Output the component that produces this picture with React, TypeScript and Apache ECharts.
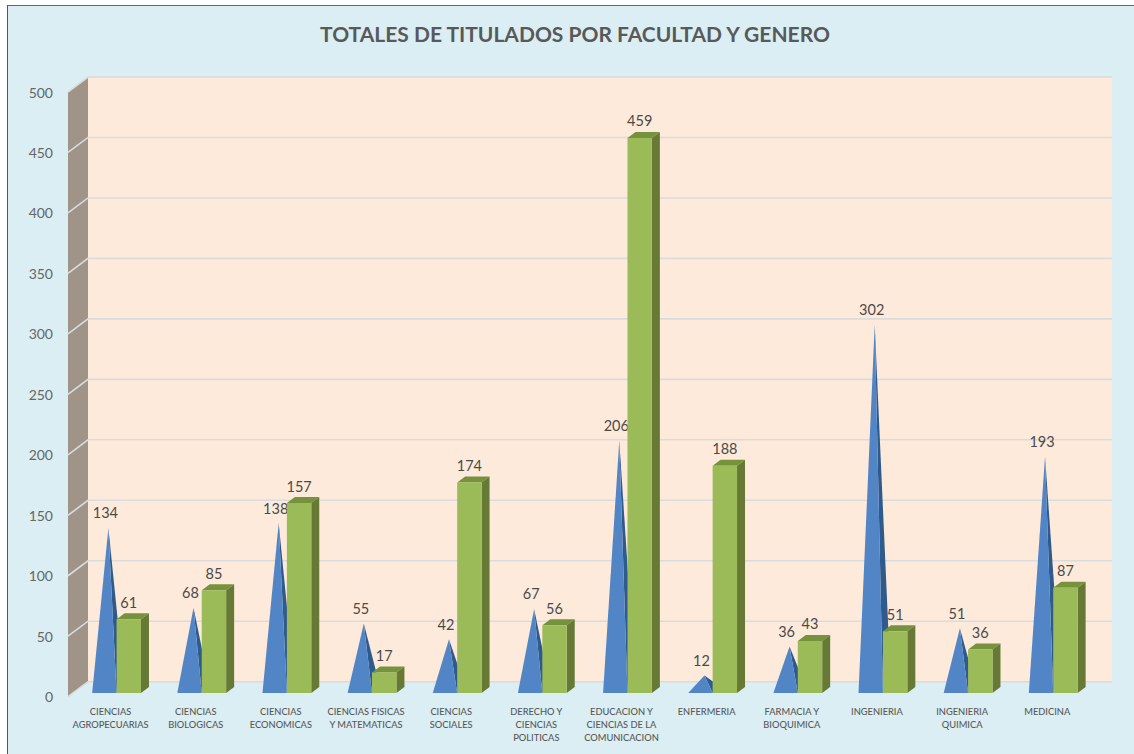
import React, { useEffect, useRef } from "react";
import * as echarts from "echarts";

const categories = [
  "CIENCIAS\nAGROPECUARIAS",
  "CIENCIAS\nBIOLOGICAS",
  "CIENCIAS\nECONOMICAS",
  "CIENCIAS FISICAS\nY MATEMATICAS",
  "CIENCIAS\nSOCIALES",
  "DERECHO Y\nCIENCIAS\nPOLITICAS",
  "EDUCACION Y\nCIENCIAS DE LA\nCOMUNICACION",
  "ENFERMERIA",
  "FARMACIA Y\nBIOQUIMICA",
  "INGENIERIA",
  "INGENIERIA\nQUIMICA",
  "MEDICINA",
];
const coneValues = [134, 68, 138, 55, 42, 67, 206, 12, 36, 302, 51, 193];
const barValues = [61, 85, 157, 17, 174, 56, 459, 188, 43, 51, 36, 87];
const yTicks = [0, 50, 100, 150, 200, 250, 300, 350, 400, 450, 500];
const title = "TOTALES DE TITULADOS POR FACULTAD Y GENERO";

const FONT = "Lato, 'Open Sans', sans-serif";
const WALL_DX = 20;
const WALL_DY = -15;
const WALL_EXTRA = 2.2;
const FLOOR_DY = -3.7;
const MARK_W = 24.4;
const DEPTH_X = 8;
const DEPTH_Y = -6;

export default function App() {
  const ref = useRef<HTMLDivElement>(null);
  useEffect(() => {
    const chart = echarts.init(ref.current!, null, { renderer: "svg" });
    chart.setOption({
      animation: false,
      title: {
        text: title,
        left: 570,
        top: 18,
        textAlign: "center",
        textStyle: { fontFamily: FONT, fontSize: 21, fontWeight: "bold", color: "#595959" },
      },
      grid: { left: 68, right: 44.2, top: 92, bottom: 57.3 },
      xAxis: {
        type: "category",
        data: categories,
        axisLine: { show: false },
        axisTick: { show: false },
        axisLabel: {
          interval: 0,
          margin: 8,
          fontFamily: FONT,
          fontSize: 9.3,
          fontWeight: 500,
          lineHeight: 13,
          color: "#595959",
          verticalAlign: "top",
        },
      },
      yAxis: {
        type: "value",
        min: 0,
        max: 500,
        interval: 50,
        axisLine: { show: false },
        axisTick: { show: false },
        splitLine: { show: false },
        axisLabel: { margin: 15, fontFamily: FONT, fontSize: 14, color: "#666666" },
      },
      series: [
        {
          type: "custom",
          silent: true,
          clip: false,
          z: 1,
          encode: { y: 0 },
          data: [[500]],
          renderItem: (params: any, api: any) => {
            const cs = params.coordSys;
            const top = api.coord([0, 500])[1];
            const bottom = api.coord([0, 0])[1];
            const l = cs.x;
            const r = cs.x + cs.width + WALL_EXTRA;
            return {
              type: "group",
              children: [
                {
                  type: "polygon",
                  shape: {
                    points: [
                      [l + WALL_DX, top + WALL_DY],
                      [r + WALL_DX, top + WALL_DY],
                      [r + WALL_DX, bottom + WALL_DY],
                      [l + WALL_DX, bottom + WALL_DY],
                    ],
                  },
                  style: { fill: "#fdeada" },
                },
                {
                  type: "polygon",
                  shape: {
                    points: [
                      [l, top],
                      [l + WALL_DX, top + WALL_DY],
                      [l + WALL_DX, bottom + WALL_DY],
                      [l, bottom],
                    ],
                  },
                  style: { fill: "#a09488" },
                },
              ],
            };
          },
        },
        {
          type: "custom",
          silent: true,
          clip: false,
          z: 2,
          encode: { y: 0 },
          data: yTicks.map((t) => [t]),
          renderItem: (params: any, api: any) => {
            const cs = params.coordSys;
            const y = api.coord([0, api.value(0)])[1];
            return {
              type: "polyline",
              shape: {
                points: [
                  [cs.x, y],
                  [cs.x + WALL_DX, y + WALL_DY],
                  [cs.x + cs.width + WALL_EXTRA + WALL_DX, y + WALL_DY],
                ],
              },
              style: { stroke: "#d9dcdd", lineWidth: 1.6, fill: "none" },
            };
          },
        },
        {
          type: "custom",
          silent: true,
          clip: false,
          z: 3,
          encode: { x: 0, y: 1 },
          data: coneValues.map((v, i) => [i, v]),
          renderItem: (params: any, api: any) => {
            const v = api.value(1);
            const p = api.coord([api.value(0), v]);
            const base = api.coord([api.value(0), 0]);
            const by = base[1] + FLOOR_DY;
            const r = p[0] + 6;
            const l = r - MARK_W;
            const apexX = (l + r) / 2 + DEPTH_X / 2;
            const apexY = p[1] + FLOOR_DY + DEPTH_Y / 2;
            return {
              type: "group",
              children: [
                {
                  type: "polygon",
                  shape: { points: [[apexX, apexY], [r, by], [r + DEPTH_X, by + DEPTH_Y]] },
                  style: { fill: "#2f5a8c" },
                },
                {
                  type: "polygon",
                  shape: { points: [[apexX, apexY], [l, by], [r, by]] },
                  style: { fill: "#5185c6" },
                },
                {
                  type: "text",
                  x: apexX - 3,
                  y: apexY - 15,
                  style: {
                    text: String(v),
                    fill: "#4a4a4a",
                    font: `14.5px ${FONT}`,
                    align: "center",
                    verticalAlign: "middle",
                  },
                },
              ],
            };
          },
        },
        {
          type: "custom",
          silent: true,
          clip: false,
          z: 4,
          encode: { x: 0, y: 1 },
          data: barValues.map((v, i) => [i, v]),
          renderItem: (params: any, api: any) => {
            const v = api.value(1);
            const p = api.coord([api.value(0), v]);
            const base = api.coord([api.value(0), 0]);
            const by = base[1] + FLOOR_DY;
            const ty = p[1] + FLOOR_DY;
            const l = p[0] + 6;
            const r = l + MARK_W;
            return {
              type: "group",
              children: [
                {
                  type: "polygon",
                  shape: { points: [[l, ty], [r, ty], [r + DEPTH_X, ty + DEPTH_Y], [l + DEPTH_X, ty + DEPTH_Y]] },
                  style: { fill: "#76923c" },
                },
                {
                  type: "polygon",
                  shape: { points: [[r, ty], [r + DEPTH_X, ty + DEPTH_Y], [r + DEPTH_X, by + DEPTH_Y], [r, by]] },
                  style: { fill: "#667a35" },
                },
                {
                  type: "polygon",
                  shape: { points: [[l, ty], [r, ty], [r, by], [l, by]] },
                  style: { fill: "#9bbb59" },
                },
                {
                  type: "text",
                  x: (l + r) / 2,
                  y: ty + DEPTH_Y - 11,
                  style: {
                    text: String(v),
                    fill: "#4a4a4a",
                    font: `14.5px ${FONT}`,
                    align: "center",
                    verticalAlign: "middle",
                  },
                },
              ],
            };
          },
        },
      ],
    });
    return () => chart.dispose();
  }, []);
  return (
    <div style={{ position: "absolute", left: 0, top: 0, width: 1134, height: 754, background: "#ffffff", overflow: "hidden" }}>
      <div
        style={{
          position: "absolute",
          left: 7,
          top: 5,
          width: 1140,
          height: 760,
          background: "#daeef3",
          borderLeft: "1.5px solid #2f5f8f",
          borderTop: "1.5px solid #3f6f9f",
        }}
      />
      <div ref={ref} style={{ position: "absolute", left: 0, top: 0, width: 1134, height: 754 }} />
    </div>
  );
}
